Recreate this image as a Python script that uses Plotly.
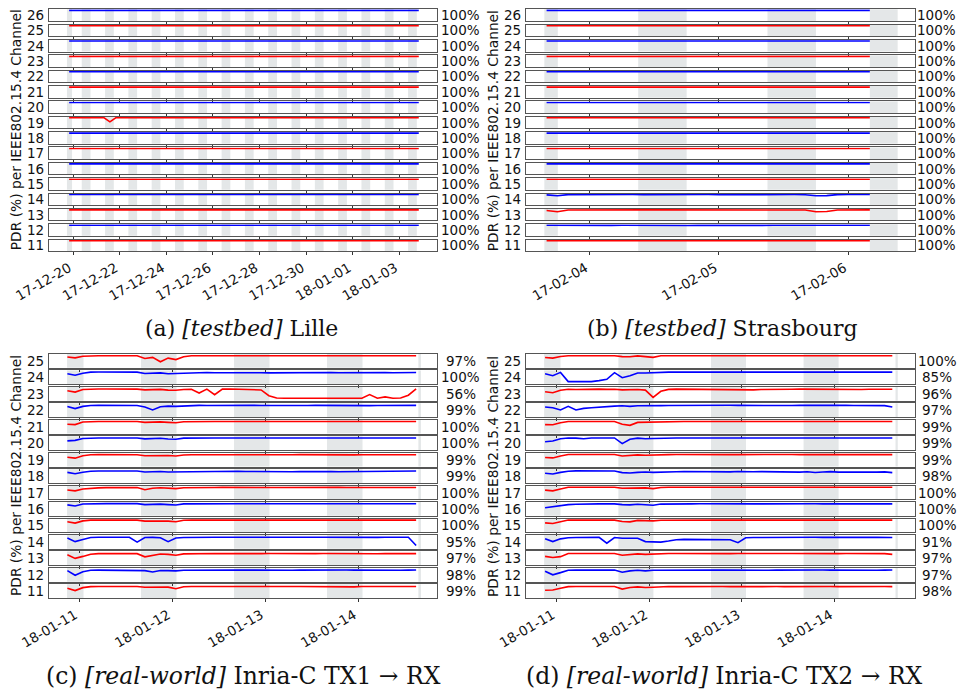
import plotly.graph_objects as go
import pandas as pd

W, H = 961, 693

# ---------------- sampling grids (measurement timestamps) ----------------
time_a = pd.date_range("2017-12-19 20:00", periods=61, freq="6h")
time_b = pd.date_range("2017-02-03 16:00", periods=31, freq="2h")
time_c = pd.date_range("2018-01-10 21:00", periods=46, freq="2h")
time_d = pd.date_range("2018-01-10 21:00", periods=46, freq="2h")

chan_top = [26, 25, 24, 23, 22, 21, 20, 19, 18, 17, 16, 15, 14, 13, 12, 11]
chan_bot = [25, 24, 23, 22, 21, 20, 19, 18, 17, 16, 15, 14, 13, 12, 11]

# ---------------- (a) Lille, PDR per channel ----------------
a26 = [100,100,100,100,100,100,100,100,100,100,100,100,100,100,100,100,100,100,100,100,100,100,100,100,100,100,100,100,100,100,100,100,100,100,100,100,100,100,100,100,100,100,100,100,100,100,100,100,100,100,100,100,100,100,100,100,100,100,100,100,100]
a25 = [100,100,100,100,100,100,100,100,100,100,100,100,100,100,100,100,100,100,100,100,100,100,100,100,100,100,100,100,100,100,100,100,100,100,100,100,100,100,100,100,100,100,100,100,100,100,100,100,100,100,100,100,100,100,100,100,100,100,100,100,100]
a24 = [100,100,100,100,100,100,100,100,100,100,100,100,100,100,100,100,100,100,100,100,100,100,100,100,100,100,100,100,100,100,100,100,100,100,100,100,100,100,100,100,100,100,100,100,100,100,100,100,100,100,100,100,100,100,100,100,100,100,100,100,100]
a23 = [100,100,100,100,100,100,100,100,100,100,100,100,100,100,100,100,100,100,100,100,100,100,100,100,100,100,100,100,100,100,100,100,100,100,100,100,100,100,100,100,100,100,100,100,100,100,100,100,100,100,100,100,100,100,100,100,100,100,100,100,100]
a22 = [100,100,100,100,100,100,100,100,100,100,100,100,100,100,100,100,100,100,100,100,100,100,100,100,100,100,100,100,100,100,100,100,100,100,100,100,100,100,100,100,100,100,100,100,100,100,100,100,100,100,100,100,100,100,100,100,100,100,100,100,100]
a21 = [100,100,100,100,100,100,100,100,100,100,100,100,100,100,100,100,100,100,100,100,100,100,100,100,100,100,100,100,100,100,100,100,100,100,100,100,100,100,100,100,100,100,100,100,100,100,100,100,100,100,100,100,100,100,100,100,100,100,100,100,100]
a20 = [100,100,100,100,100,100,100,100,100,100,100,100,100,100,100,100,100,100,100,100,100,100,100,100,100,100,100,100,100,100,100,100,100,100,100,100,100,100,100,100,100,100,100,100,100,100,100,100,100,100,100,100,100,100,100,100,100,100,100,100,100]
a19 = [100,100,100,100,100,100,100,62,100,100,100,100,100,100,100,100,100,100,100,100,100,100,100,100,100,100,100,100,100,100,100,100,100,100,100,100,100,100,100,100,100,100,100,100,100,100,100,100,100,100,100,100,100,100,100,100,100,100,100,100,100]
a18 = [100,100,100,100,100,100,100,100,100,100,100,100,100,100,100,100,100,100,100,100,100,100,100,100,100,100,100,100,100,100,100,100,100,100,100,100,100,100,100,100,100,100,100,100,100,100,100,100,100,100,100,100,100,100,100,100,100,100,100,100,100]
a17 = [100,100,100,100,100,100,100,100,100,100,100,100,100,100,100,100,100,100,100,100,100,100,100,100,100,100,100,100,100,100,100,100,100,100,100,100,100,100,100,100,100,100,100,100,100,100,100,100,100,100,100,100,100,100,100,100,100,100,100,100,100]
a16 = [100,100,100,100,100,100,100,100,100,100,100,100,100,100,100,100,100,100,100,100,100,100,100,100,100,100,100,100,100,100,100,100,100,100,100,100,100,100,100,100,100,100,100,100,100,100,100,100,100,100,100,100,100,100,100,100,100,100,100,100,100]
a15 = [100,100,100,100,100,100,100,100,100,100,100,100,100,100,100,100,100,100,100,100,100,100,100,100,100,100,100,100,100,100,100,100,100,100,100,100,100,100,100,100,100,100,100,100,100,100,100,100,100,100,100,100,100,100,100,100,100,100,100,100,100]
a14 = [100,100,100,100,100,100,100,100,100,100,100,100,100,100,100,100,100,100,100,100,100,100,100,100,100,100,100,100,100,100,100,100,100,100,100,100,100,100,100,100,100,100,100,100,100,100,100,100,100,100,100,100,100,100,100,100,100,100,100,100,100]
a13 = [100,100,100,100,100,100,100,100,100,100,100,100,100,100,100,100,100,100,100,100,100,100,100,100,100,100,100,100,100,100,100,100,100,100,100,100,100,100,100,100,100,100,100,100,100,100,100,100,100,100,100,100,100,100,100,100,100,100,100,100,100]
a12 = [100,100,100,100,100,100,100,100,100,100,100,100,100,100,100,100,100,100,100,100,100,100,100,100,100,100,100,100,100,100,100,100,100,100,100,100,100,100,100,100,100,100,100,100,100,100,100,100,100,100,100,100,100,100,100,100,100,100,100,100,100]
a11 = [100,100,100,100,100,100,100,100,100,100,100,100,100,100,100,100,100,100,100,100,100,100,100,100,100,100,100,100,100,100,100,100,100,100,100,100,100,100,100,100,100,100,100,100,100,100,100,100,100,100,100,100,100,100,100,100,100,100,100,95,100]

# ---------------- (b) Strasbourg ----------------
b26 = [100,100,100,100,100,100,100,100,100,100,100,100,100,100,100,100,100,100,100,100,100,100,100,100,100,100,100,100,100,100,100]
b25 = [100,100,100,100,100,100,100,100,100,100,100,100,100,100,100,100,100,100,100,100,100,100,100,100,100,100,100,100,100,100,100]
b24 = [100,100,100,100,100,100,100,100,100,100,100,100,100,100,100,100,100,100,100,100,100,100,100,100,100,100,100,100,100,100,100]
b23 = [100,100,100,100,100,100,100,100,100,100,100,100,100,100,100,100,100,100,100,100,100,100,100,100,100,100,100,100,100,100,100]
b22 = [100,100,99,100,100,100,99,100,100,100,100,99,100,100,100,100,100,99,100,100,100,100,100,100,99,100,100,100,100,100,100]
b21 = [100,100,100,100,100,100,100,100,100,100,100,100,100,100,100,100,100,100,100,100,100,100,100,100,100,100,100,100,100,100,100]
b20 = [100,100,100,100,100,100,100,100,100,100,100,100,100,100,100,100,100,100,100,100,100,100,100,100,100,100,100,100,100,100,100]
b19 = [100,100,100,100,100,100,100,100,100,100,100,100,100,100,100,100,100,100,100,100,100,100,100,100,100,100,100,100,100,100,100]
b18 = [100,100,100,100,100,100,100,100,100,100,100,100,100,100,100,100,100,100,100,100,100,100,100,100,100,99,99,99,99,99,100]
b17 = [100,100,100,100,100,100,100,100,100,100,100,100,100,100,100,100,100,100,100,100,100,100,100,100,100,100,100,100,100,100,100]
b16 = [100,100,100,100,100,100,100,100,100,100,100,100,100,100,100,100,100,100,100,100,100,100,100,100,100,100,100,100,100,100,100]
b15 = [100,100,100,100,100,100,100,100,100,100,100,100,100,100,100,100,100,100,100,100,100,100,100,100,100,100,100,100,100,100,100]
b14 = [97,88,99,100,99,100,99,100,100,99,100,99,100,100,99,100,99,100,100,99,100,100,99,100,98,89,90,99,100,99,100]
b13 = [94,82,99,100,100,100,100,100,100,100,100,100,100,98,99,100,100,100,100,100,100,100,100,100,99,82,85,99,100,100,100]
b12 = [100,99,100,99,100,100,99,100,99,100,100,99,100,98,100,99,100,100,99,100,99,100,100,99,100,99,100,99,100,100,100]
b11 = [100,100,100,100,100,100,100,100,100,100,100,100,100,100,100,100,100,100,100,100,100,100,100,100,100,100,100,100,100,100,100]

# ---------------- (c) Inria-C TX1 -> RX ----------------
c25 = [88,80,95,100,100,100,100,100,100,99,75,85,45,78,65,90,100,100,100,100,100,100,100,100,100,100,100,100,100,100,100,100,100,100,100,100,100,100,100,100,100,100,100,100,100,100]
c24 = [85,72,90,100,101,101,101,101,100,100,88,92,93,85,88,94,97,96,97,95,96,97,96,95,96,95,93,94,95,94,95,96,95,96,97,95,96,97,95,96,95,96,95,96,95,97]
c23 = [80,68,92,96,97,96,97,96,96,95,88,90,93,86,85,92,94,60,95,45,95,96,95,96,95,88,35,14,12,12,12,12,12,12,12,12,12,12,12,45,12,25,12,14,40,97]
c22 = [86,68,88,96,97,97,97,96,96,96,82,55,84,90,88,93,96,97,96,97,95,96,97,96,97,96,95,96,97,96,95,96,97,96,95,96,97,96,97,95,96,97,96,95,96,97]
c21 = [75,72,95,100,100,100,100,100,100,100,92,94,97,92,88,98,100,100,100,100,100,100,100,100,100,100,100,100,100,100,100,100,100,100,100,100,100,100,100,100,100,100,100,100,100,100]
c20 = [73,78,95,100,100,100,100,100,100,100,92,94,97,91,88,98,100,100,100,100,100,100,100,100,100,100,100,100,100,100,100,100,100,100,100,100,100,100,100,100,100,100,100,100,100,100]
c19 = [74,66,88,97,98,98,97,98,98,97,88,90,94,90,85,95,97,98,97,96,97,98,97,97,96,97,98,97,96,97,98,97,97,96,97,98,97,96,97,98,97,96,97,98,97,97]
c18 = [86,74,88,97,98,98,98,98,98,98,90,92,94,89,90,95,96,97,96,97,96,95,96,94,93,92,91,90,91,92,94,95,94,95,93,92,93,91,92,94,93,92,93,94,95,99]
c17 = [76,68,84,92,95,97,98,98,98,98,78,92,96,90,88,96,98,99,98,98,99,98,98,99,98,98,99,98,98,99,98,98,99,98,98,99,98,98,99,98,98,99,98,98,99,98]
c16 = [90,80,98,101,101,101,101,101,101,101,92,94,97,92,88,99,100,100,100,100,100,100,100,100,100,100,100,100,100,100,100,100,100,100,100,100,100,100,100,100,100,100,100,100,100,100]
c15 = [86,74,94,101,101,101,101,101,101,101,92,93,97,92,86,99,101,101,101,101,101,101,101,101,101,101,101,101,101,101,101,101,101,101,101,101,101,101,101,101,101,101,101,101,101,101]
c14 = [88,55,75,92,95,95,96,95,94,50,92,93,90,55,88,92,94,93,94,95,94,93,94,94,93,94,95,94,93,94,94,93,94,95,94,93,94,94,95,94,93,94,95,94,94,20]
c13 = [85,52,70,90,95,95,95,95,95,95,66,80,92,88,80,93,95,94,95,96,95,94,95,95,94,95,96,95,94,95,95,94,95,96,95,94,95,95,96,95,94,95,95,94,93,95]
c12 = [90,48,80,93,95,95,95,95,95,95,90,78,92,90,88,94,95,96,95,94,95,96,95,95,94,95,96,95,95,94,95,96,95,95,94,95,96,95,94,95,95,96,95,94,95,96]
c11 = [80,58,85,94,95,95,95,95,95,95,88,89,94,90,75,93,95,94,95,96,95,94,95,95,94,95,96,95,94,95,95,94,95,96,95,94,95,92,95,94,95,96,95,94,95,95]

# ---------------- (d) Inria-C TX2 -> RX ----------------
d25 = [84,78,92,100,100,100,100,100,100,100,92,90,98,90,85,99,100,100,100,100,100,100,100,100,100,100,100,100,100,100,100,100,100,100,100,100,100,100,100,100,100,100,100,100,100,100]
d24 = [85,68,98,14,14,14,14,23,35,95,50,68,92,92,96,98,100,100,100,100,100,100,100,100,100,100,100,100,100,100,100,100,100,100,100,100,100,100,100,100,100,100,100,100,100,100]
d23 = [72,62,85,94,92,95,94,95,93,94,88,92,92,86,20,75,93,95,94,93,95,94,95,93,94,92,90,88,92,94,95,93,94,95,94,92,93,95,94,93,90,92,94,95,93,94]
d22 = [82,75,55,88,55,70,75,82,86,90,93,88,93,92,94,95,96,97,98,97,96,97,98,97,98,97,96,97,98,97,98,97,96,97,98,97,96,97,98,97,96,97,97,96,95,82]
d21 = [72,70,88,100,100,100,100,100,100,100,75,65,92,94,96,99,100,100,100,100,100,100,100,100,100,100,100,100,100,100,100,100,100,100,100,100,100,100,100,100,100,100,100,100,100,100]
d20 = [66,72,92,100,98,93,99,100,100,100,48,88,98,93,95,98,100,100,100,100,100,100,100,100,100,100,100,100,100,100,100,100,100,100,100,100,100,100,100,100,100,100,100,100,100,100]
d19 = [72,68,86,99,99,99,99,99,99,99,85,90,96,92,92,97,98,99,98,98,99,98,98,99,98,98,99,98,98,99,98,98,99,98,98,99,98,98,99,98,98,99,98,98,99,98]
d18 = [78,72,86,97,100,101,101,101,100,99,84,80,86,90,86,90,93,92,94,93,95,97,96,93,91,94,90,92,93,91,93,92,90,88,92,85,90,93,88,90,86,92,90,88,91,84]
d17 = [74,68,84,100,100,100,100,100,100,100,92,95,98,95,88,98,100,100,100,100,100,100,100,100,100,100,100,100,100,100,100,100,100,100,100,100,100,100,100,100,100,100,100,100,100,100]
d16 = [64,75,86,92,96,99,99,99,99,99,92,90,96,94,86,97,99,100,99,99,100,99,99,100,99,99,100,99,99,100,99,99,100,99,99,100,99,99,100,99,99,100,99,99,100,99]
d15 = [76,70,86,101,101,101,101,101,101,101,88,85,98,93,94,100,101,101,101,101,101,101,101,101,101,101,101,101,101,101,101,101,101,101,101,101,101,101,101,101,101,101,101,101,101,101]
d14 = [82,55,80,90,92,93,92,93,40,92,85,82,85,55,50,50,60,72,75,74,76,75,74,73,72,45,90,92,93,92,93,94,93,92,93,94,93,92,93,94,93,92,93,94,93,92]
d13 = [70,60,68,96,97,97,97,97,97,97,80,85,93,88,92,95,96,97,96,95,96,97,96,96,95,96,97,96,95,96,96,97,96,95,96,97,96,96,95,96,97,96,95,96,95,88]
d12 = [85,52,72,94,95,95,95,95,95,95,75,88,93,88,93,94,95,96,95,94,95,96,95,95,94,95,96,95,95,94,95,96,95,95,94,95,96,95,94,95,95,96,95,94,95,96]
d11 = [62,64,80,94,95,95,95,95,95,95,72,86,92,86,88,93,95,94,95,96,95,94,95,95,94,95,96,95,94,95,95,94,95,96,95,94,95,95,94,95,96,95,94,95,95,94]

# ---------------- average PDR labels ----------------
pct_a = ["100%"] * 16
pct_b = ["100%"] * 16
pct_c = ["97%", "100%", "56%", "99%", "100%", "100%", "99%", "99%", "100%", "100%", "100%", "95%", "97%", "98%", "99%"]
pct_d = ["100%", "85%", "96%", "97%", "99%", "99%", "99%", "98%", "100%", "100%", "100%", "91%", "97%", "97%", "98%"]

# ---------------- shaded periods ----------------
bands_a_start = ["2017-12-19 17:45", "2017-12-20 09:00", "2017-12-21 09:00", "2017-12-22 09:00", "2017-12-23 09:00",
                 "2017-12-24 09:00", "2017-12-25 09:00", "2017-12-26 09:00", "2017-12-27 09:00", "2017-12-28 09:00",
                 "2017-12-29 09:00", "2017-12-30 09:00", "2017-12-31 09:00", "2018-01-01 09:00", "2018-01-02 09:00",
                 "2018-01-03 09:00"]
bands_a_end = ["2017-12-19 23:00", "2017-12-20 18:00", "2017-12-21 18:00", "2017-12-22 18:00", "2017-12-23 18:00",
               "2017-12-24 18:00", "2017-12-25 18:00", "2017-12-26 18:00", "2017-12-27 18:00", "2017-12-28 18:00",
               "2017-12-29 18:00", "2017-12-30 18:00", "2017-12-31 18:00", "2018-01-01 18:00", "2018-01-02 18:00",
               "2018-01-03 18:00"]
bands_b_start = ["2017-02-03 15:35", "2017-02-04 09:00", "2017-02-05 09:00", "2017-02-06 04:00"]
bands_b_end = ["2017-02-03 18:05", "2017-02-04 18:00", "2017-02-05 18:00", "2017-02-06 09:10"]
bands_c_start = ["2018-01-10 20:55", "2018-01-11 16:00", "2018-01-12 16:00", "2018-01-13 16:00", "2018-01-14 15:35"]
bands_c_end = ["2018-01-11 01:10", "2018-01-12 01:10", "2018-01-13 01:10", "2018-01-14 01:10", "2018-01-14 16:15"]
bands_d_start = ["2018-01-10 20:45", "2018-01-11 16:00", "2018-01-12 16:00", "2018-01-13 16:00", "2018-01-14 15:50"]
bands_d_end = ["2018-01-11 01:00", "2018-01-12 01:05", "2018-01-13 01:05", "2018-01-14 01:05", "2018-01-14 16:25"]

ticks_a = ["2017-12-20", "2017-12-22", "2017-12-24", "2017-12-26", "2017-12-28", "2017-12-30", "2018-01-01", "2018-01-03"]
ticktext_a = ["17-12-20", "17-12-22", "17-12-24", "17-12-26", "17-12-28", "17-12-30", "18-01-01", "18-01-03"]
ticks_b = ["2017-02-04", "2017-02-05", "2017-02-06"]
ticktext_b = ["17-02-04", "17-02-05", "17-02-06"]
ticks_cd = ["2018-01-11", "2018-01-12", "2018-01-13", "2018-01-14"]
ticktext_cd = ["18-01-11", "18-01-12", "18-01-13", "18-01-14"]

caption_a = "(a) <i>[testbed]</i> Lille"
caption_b = "(b) <i>[testbed]</i> Strasbourg"
caption_c = "(c) <i>[real-world]</i> Inria-C TX1 → RX"
caption_d = "(d) <i>[real-world]</i> Inria-C TX2 → RX"
ytitle = "PDR (%) per IEEE802.15.4 Channel"

# ---------------- assemble ----------------
vals_a = dict(zip(chan_top, [a26, a25, a24, a23, a22, a21, a20, a19, a18, a17, a16, a15, a14, a13, a12, a11]))
vals_b = dict(zip(chan_top, [b26, b25, b24, b23, b22, b21, b20, b19, b18, b17, b16, b15, b14, b13, b12, b11]))
vals_c = dict(zip(chan_bot, [c25, c24, c23, c22, c21, c20, c19, c18, c17, c16, c15, c14, c13, c12, c11]))
vals_d = dict(zip(chan_bot, [d25, d24, d23, d22, d21, d20, d19, d18, d17, d16, d15, d14, d13, d12, d11]))

panels = [
    dict(chans=chan_top, times=time_a, vals=vals_a, pct=pct_a, x0=49.3, x1=437.3, top=9.3, pitch=15.35, h=11.6,
         yr=[0, 110], xr=["2017-12-18 23:35", "2018-01-04 15:05"], tv=ticks_a, tt=ticktext_a,
         bands=list(zip(bands_a_start, bands_a_end)), labx=45.5, pctx=460.3, titx=16, cap=caption_a,
         capx=241.5, capy=329, capsize=22),
    dict(chans=chan_top, times=time_b, vals=vals_b, pct=pct_b, x0=526.3, x1=915.0, top=9.3, pitch=15.35, h=11.6,
         yr=[0, 110], xr=["2017-02-03 12:14", "2017-02-06 12:23"], tv=ticks_b, tt=ticktext_b,
         bands=list(zip(bands_b_start, bands_b_end)), labx=523, pctx=936.7, titx=493, cap=caption_b,
         capx=722.5, capy=329, capsize=22),
    dict(chans=chan_bot, times=time_c, vals=vals_c, pct=pct_c, x0=49.3, x1=437.3, top=354.0, pitch=16.45, h=13.8,
         yr=[-10, 115.5], xr=["2018-01-10 16:20", "2018-01-14 20:28"], tv=ticks_cd, tt=ticktext_cd,
         bands=list(zip(bands_c_start, bands_c_end)), labx=45.5, pctx=460.5, titx=16, cap=caption_c,
         capx=244, capy=676, capsize=23.5),
    dict(chans=chan_bot, times=time_d, vals=vals_d, pct=pct_d, x0=526.3, x1=915.0, top=354.0, pitch=16.45, h=13.8,
         yr=[-10, 115.5], xr=["2018-01-10 16:08", "2018-01-14 20:53"], tv=ticks_cd, tt=ticktext_cd,
         bands=list(zip(bands_d_start, bands_d_end)), labx=523, pctx=937, titx=493, cap=caption_d,
         capx=724, capy=676, capsize=23.5),
]

SANS = "DejaVu Sans"
SERIF = "DejaVu Serif"
fig = go.Figure()
layout = dict(width=W, height=H, autosize=False, margin=dict(l=0, r=0, t=0, b=0, pad=0, autoexpand=False),
              paper_bgcolor="white", plot_bgcolor="white", showlegend=False)
shapes, annotations = [], []
n = 0
for P in panels:
    nch = len(P["chans"])
    for j, ch in enumerate(P["chans"]):
        n += 1
        xa = "xaxis" if n == 1 else f"xaxis{n}"
        ya = "yaxis" if n == 1 else f"yaxis{n}"
        xref = "x" if n == 1 else f"x{n}"
        yref = "y" if n == 1 else f"y{n}"
        top = P["top"] + j * P["pitch"]
        bot = top + P["h"]
        last = (j == nch - 1)
        layout[xa] = dict(domain=[P["x0"] / W, P["x1"] / W], anchor=yref, type="date", range=P["xr"],
                          automargin=False, showgrid=False, zeroline=False, showline=True, mirror=True,
                          linecolor="#555", linewidth=1, ticks="outside", ticklen=3, tickwidth=1,
                          tickcolor="#333", tickmode="array", tickvals=P["tv"], ticktext=P["tt"],
                          showticklabels=last, tickangle=-30, ticklabelshift=-4,
                          tickfont=dict(family=SANS, size=13.5, color="#111"))
        layout[ya] = dict(domain=[1 - bot / H, 1 - top / H], anchor=xref, range=P["yr"], automargin=False,
                          showgrid=False, zeroline=False, showline=True, mirror=True, linecolor="#555",
                          linewidth=1, showticklabels=False, ticks="")
        vals = P["vals"][ch]
        color = "#0000ff" if ch % 2 == 0 else "#ff0000"
        fig.add_trace(go.Scatter(x=P["times"][:len(vals)], y=vals, mode="lines",
                                 line=dict(color=color, width=1.6), xaxis=xref, yaxis=yref,
                                 hoverinfo="skip", showlegend=False))
        for b0, b1 in P["bands"]:
            shapes.append(dict(type="rect", xref=xref, yref=f"{yref} domain", x0=b0, x1=b1, y0=0, y1=1,
                               fillcolor="#e4e7e8", line=dict(width=0), layer="below"))
        yc = 1 - (top + bot) / 2 / H
        annotations.append(dict(text=str(ch), x=P["labx"] / W, y=yc, xref="paper", yref="paper",
                                xanchor="right", yanchor="middle", showarrow=False,
                                font=dict(family=SANS, size=13.5, color="#111")))
        annotations.append(dict(text=P["pct"][j], x=P["pctx"] / W, y=yc, xref="paper", yref="paper",
                                xanchor="center", yanchor="middle", showarrow=False,
                                font=dict(family=SANS, size=13.5, color="#111")))
    ymid = 1 - (P["top"] + (nch - 1) * P["pitch"] + P["h"] + P["top"]) / 2 / H
    annotations.append(dict(text=ytitle, x=P["titx"] / W, y=ymid, xref="paper", yref="paper",
                            xanchor="center", yanchor="middle", textangle=-90, showarrow=False,
                            font=dict(family=SANS, size=13.8, color="#111")))
    annotations.append(dict(text=P["cap"], x=P["capx"] / W, y=1 - P["capy"] / H, xref="paper", yref="paper",
                            xanchor="center", yanchor="middle", showarrow=False,
                            font=dict(family=SERIF, size=P["capsize"], color="#111")))

layout["shapes"] = shapes
layout["annotations"] = annotations
fig.update_layout(**layout)
fig.write_html("out.html", config={"displayModeBar": False},
               post_script="document.body.style.margin='0';document.body.style.overflow='hidden';")
